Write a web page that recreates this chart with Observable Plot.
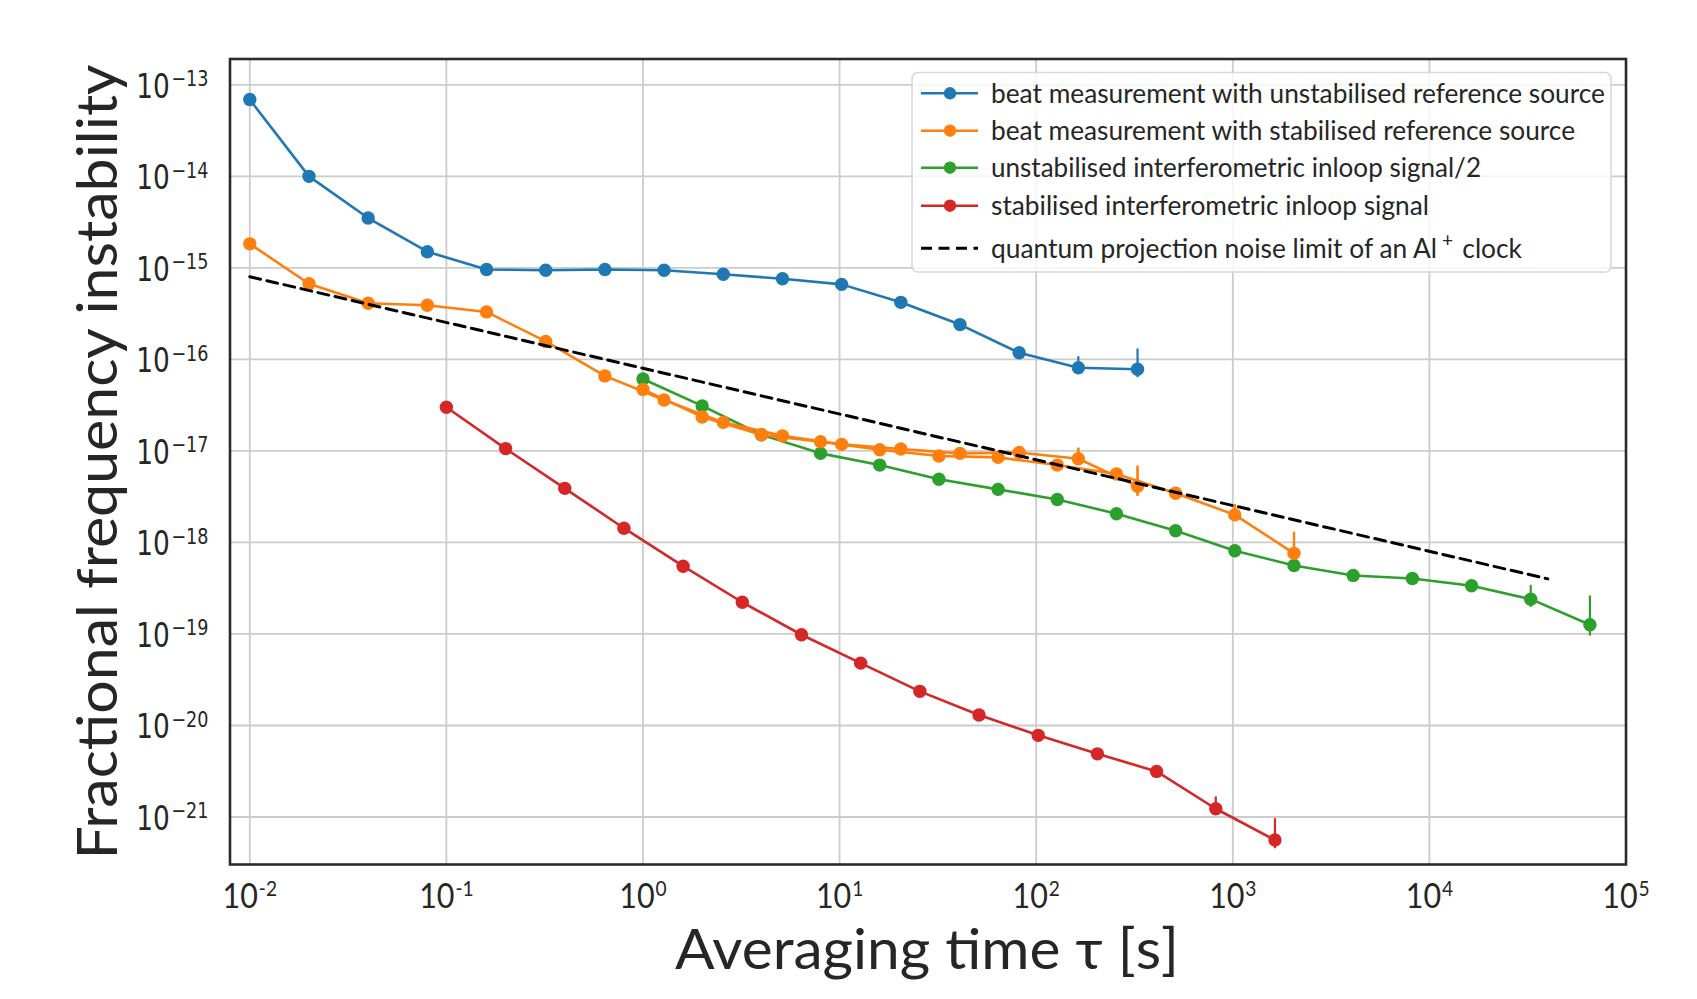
<!DOCTYPE html>
<html>
<head>
<meta charset="utf-8">
<script src="https://cdn.jsdelivr.net/npm/d3@7"></script>
<script src="https://cdn.jsdelivr.net/npm/@observablehq/plot@0.6"></script>
<style>
  html, body { margin: 0; padding: 0; background: #ffffff; }
  #chart { width: 1697px; height: 999px; }
</style>
</head>
<body>
<div id="chart"></div>
<script>
// ---------------- data ----------------
const blueTau = [0.01, 0.02, 0.04, 0.08, 0.16, 0.32, 0.64, 1.28, 2.56, 5.12, 10.24, 20.48, 40.96, 81.92, 163.84, 327.68];
const blueSigma = [6.9e-14, 1.0e-14, 3.5e-15, 1.5e-15, 9.6e-16, 9.4e-16, 9.6e-16, 9.4e-16, 8.5e-16, 7.6e-16, 6.6e-16, 4.2e-16, 2.4e-16, 1.18e-16, 8.1e-17, 7.8e-17];

const orangeTauA = [0.01, 0.02, 0.04, 0.08, 0.16, 0.32, 0.64, 1.28, 2.56, 5.12, 10.24, 20.48, 40.96, 81.92, 163.84, 327.68];
const orangeSigmaA = [1.83e-15, 6.7e-16, 4.1e-16, 3.9e-16, 3.3e-16, 1.57e-16, 6.6e-17, 3.6e-17, 2.05e-17, 1.46e-17, 1.18e-17, 1.05e-17, 9.4e-18, 9.6e-18, 8.2e-18, 4.1e-18];
const orangeTauB = [1, 2, 4, 8, 16, 32, 64, 128, 256, 512, 1024, 2048];
const orangeSigmaB = [4.7e-17, 2.35e-17, 1.5e-17, 1.26e-17, 1.03e-17, 8.8e-18, 8.5e-18, 7.0e-18, 5.6e-18, 3.45e-18, 2.0e-18, 7.6e-19];

const greenTau = [1, 2, 4, 8, 16, 32, 64, 128, 256, 512, 1024, 2048, 4096, 8192, 16384, 32768, 65536];
const greenSigma = [6.1e-17, 3.1e-17, 1.5e-17, 9.4e-18, 7.0e-18, 4.9e-18, 3.8e-18, 2.95e-18, 2.06e-18, 1.34e-18, 8.1e-19, 5.6e-19, 4.36e-19, 4.04e-19, 3.36e-19, 2.4e-19, 1.26e-19];

const redTau = [0.1, 0.2, 0.4, 0.8, 1.6, 3.2, 6.4, 12.8, 25.6, 51.2, 102.4, 204.8, 409.6, 819.2, 1638.4];
const redSigma = [3.0e-17, 1.06e-17, 3.9e-18, 1.43e-18, 5.5e-19, 2.22e-19, 9.8e-20, 4.8e-20, 2.36e-20, 1.3e-20, 7.8e-21, 4.9e-21, 3.15e-21, 1.23e-21, 5.6e-22];

const qpnTau = [0.01, 40000];
const qpnSigma = [8.0e-16, 4.0e-19];

const errSeries = ["blue", "blue", "orange", "orange", "orange", "orange", "green", "green", "green", "red", "red"];
const errTau = [163.84, 327.68, 163.84, 327.68, 1024, 2048, 16384, 32768, 65536, 819.2, 1638.4];
const errLow = [7.0e-17, 6.3e-17, 7.0e-18, 3.2e-18, 1.75e-18, 6.8e-19, 3.0e-19, 1.95e-19, 9.5e-20, 1.12e-21, 4.5e-22];
const errHigh = [1.07e-16, 1.3e-16, 1.07e-17, 6.8e-18, 2.6e-18, 1.29e-18, 3.8e-19, 3.4e-19, 2.6e-19, 1.66e-21, 9.6e-22];

const xTicks = [1e-2, 1e-1, 1e0, 1e1, 1e2, 1e3, 1e4, 1e5];
const yTicks = [1e-21, 1e-20, 1e-19, 1e-18, 1e-17, 1e-16, 1e-15, 1e-14, 1e-13];

const legendKeys = ["blue", "orange", "green", "red", "qpn"];
const legendLabels = [
  "beat measurement with unstabilised reference source",
  "beat measurement with stabilised reference source",
  "unstabilised interferometric inloop signal/2",
  "stabilised interferometric inloop signal",
  "quantum projection noise limit of an Al^+ clock"
];
const xTitle = "Averaging time τ [s]";
const yTitle = "Fractional frequency instability";

// ---------------- styles ----------------
const COLORS = {blue: "#1f77b4", orange: "#ff7f0e", green: "#2ca02c", red: "#d62728", qpn: "#000000"};
const FONT_SANS = "Lato, 'Liberation Sans', 'DejaVu Sans', sans-serif";
const FONT_Y = "'DejaVu Sans', sans-serif";
const TEXT = "#262626";

const rows = (taus, sigmas) => taus.map((t, i) => ({tau: t, sigma: sigmas[i]}));
const blueData = rows(blueTau, blueSigma);
const orangeDataA = rows(orangeTauA, orangeSigmaA);
const orangeDataB = rows(orangeTauB, orangeSigmaB);
const greenData = rows(greenTau, greenSigma);
const redData = rows(redTau, redSigma);
const qpnData = rows(qpnTau, qpnSigma);
const errData = errTau.map((t, i) => ({series: errSeries[i], tau: t, lo: errLow[i], hi: errHigh[i]}));

const W = 1697, H = 999;
const LW = 2.6, R = 6.7;

function series(data, color) {
  return [
    Plot.line(data, {x: "tau", y: "sigma", stroke: color, strokeWidth: LW}),
    Plot.ruleX(errData.filter(d => COLORS[d.series] === color), {x: "tau", y1: "lo", y2: "hi", stroke: color, strokeWidth: 2.2}),
    Plot.dot(data, {x: "tau", y: "sigma", r: R, fill: color, stroke: "none"})
  ];
}

const plot = Plot.plot({
  width: W,
  height: H,
  marginLeft: 229.5,
  marginRight: 71.5,
  marginTop: 58.5,
  marginBottom: 135,
  style: {background: "#ffffff", fontFamily: FONT_SANS, overflow: "visible"},
  x: {type: "log", domain: [Math.pow(10, -2.1007), 1e5]},
  y: {type: "log", domain: [Math.pow(10, -21.519), Math.pow(10, -12.718)]},
  marks: [
    Plot.gridX(xTicks, {stroke: "#cccccc", strokeOpacity: 1, strokeWidth: 1.8}),
    Plot.gridY(yTicks, {stroke: "#cccccc", strokeOpacity: 1, strokeWidth: 1.8}),
    Plot.axisX(xTicks, {tickSize: 0, tickPadding: 19, label: null,
      tickFormat: d => "10^" + Math.round(Math.log10(d)).toString()}),
    Plot.axisY(yTicks, {tickSize: 0, tickPadding: 21.5, label: null,
      tickFormat: d => "10^" + Math.round(Math.log10(d)).toString().replace("-", "\u2212")}),
    ...series(blueData, COLORS.blue),
    ...series(greenData, COLORS.green),
    ...series(orangeDataA, COLORS.orange),
    ...series(orangeDataB, COLORS.orange),
    ...series(redData, COLORS.red),
    Plot.line(qpnData, {x: "tau", y: "sigma", stroke: "#000000", strokeWidth: 3, strokeDasharray: "11,6.5"}),
    Plot.frame({stroke: "#2b2b2b", strokeWidth: 2.6})
  ]
});

document.getElementById("chart").appendChild(plot);
const svg = d3.select(plot);

// superscript tick labels
function supLabels(sel, opts) {
  sel.each(function () {
    const s = this.textContent;
    const [base, exp] = s.split("^");
    const t = d3.select(this);
    t.text(null)
      .attr("font-family", opts.family)
      .attr("font-size", opts.size)
      .attr("fill", TEXT)
      .attr("y", opts.y);
    t.append("tspan").text(base);
    t.append("tspan").attr("font-size", opts.supSize).attr("dx", opts.supDx).attr("dy", -opts.raise).text(exp);
    const tr = this.getAttribute("transform") || "";
    this.setAttribute("transform", tr + ` scale(${opts.sx},1)`);
  });
}
supLabels(svg.selectAll('g[aria-label="x-axis tick label"] text'),
  {family: FONT_SANS, size: 35, supSize: 22, supDx: 1, raise: 12, y: "0.71em", sx: 0.87});
supLabels(svg.selectAll('g[aria-label="y-axis tick label"] text'),
  {family: FONT_Y, size: 33, supSize: 22, supDx: 2, raise: 11.5, y: "0.39em", sx: 0.8});

// axis titles
svg.append("text")
  .attr("x", 927).attr("y", 969)
  .attr("text-anchor", "middle")
  .attr("font-family", FONT_SANS).attr("font-size", 56).attr("fill", TEXT)
  .attr("textLength", 504).attr("lengthAdjust", "spacingAndGlyphs")
  .text(xTitle);
svg.append("text")
  .attr("transform", "translate(117,462) rotate(-90)")
  .attr("text-anchor", "middle")
  .attr("font-family", FONT_SANS).attr("font-size", 57).attr("fill", TEXT)
  .attr("textLength", 795).attr("lengthAdjust", "spacingAndGlyphs")
  .text(yTitle);

// legend
const lg = svg.append("g").attr("aria-label", "legend").attr("text-anchor", "start");
lg.append("rect")
  .attr("x", 912).attr("y", 72.5).attr("width", 699).attr("height", 199.5)
  .attr("rx", 6).attr("fill", "#ffffff").attr("fill-opacity", 0.8)
  .attr("stroke", "#d8d8d8").attr("stroke-width", 1.6);
const rowY = [93.3, 130.7, 167.7, 205.7, 248.3];
const rowW = [614, 584, 490, 438, 531];
legendKeys.forEach((k, i) => {
  const y = rowY[i];
  const g = lg.append("g");
  if (k === "qpn") {
    g.append("line").attr("x1", 921).attr("x2", 978).attr("y1", y).attr("y2", y)
      .attr("stroke", "#000").attr("stroke-width", 3).attr("stroke-dasharray", "11,6.5");
  } else {
    g.append("line").attr("x1", 921).attr("x2", 978).attr("y1", y).attr("y2", y)
      .attr("stroke", COLORS[k]).attr("stroke-width", LW);
    g.append("circle").attr("cx", 950).attr("cy", y).attr("r", 6.2).attr("fill", COLORS[k]);
  }
  const t = g.append("text").attr("x", 991).attr("y", y).attr("dy", "0.36em")
    .attr("text-anchor", "start")
    .attr("font-family", FONT_SANS).attr("font-size", 26).attr("fill", TEXT)
    .attr("textLength", rowW[i]).attr("lengthAdjust", "spacingAndGlyphs");
  const label = legendLabels[i];
  if (label.includes("^")) {
    const m = label.match(/^(.*)\^(\S+)(.*)$/);
    t.append("tspan").text(m[1]);
    t.append("tspan").attr("font-size", 19).attr("dx", 5).attr("dy", -11).text(m[2]);
    t.append("tspan").attr("dx", 9).attr("dy", 11).text(m[3].trim());
  } else {
    t.text(label);
  }
});
</script>
</body>
</html>
